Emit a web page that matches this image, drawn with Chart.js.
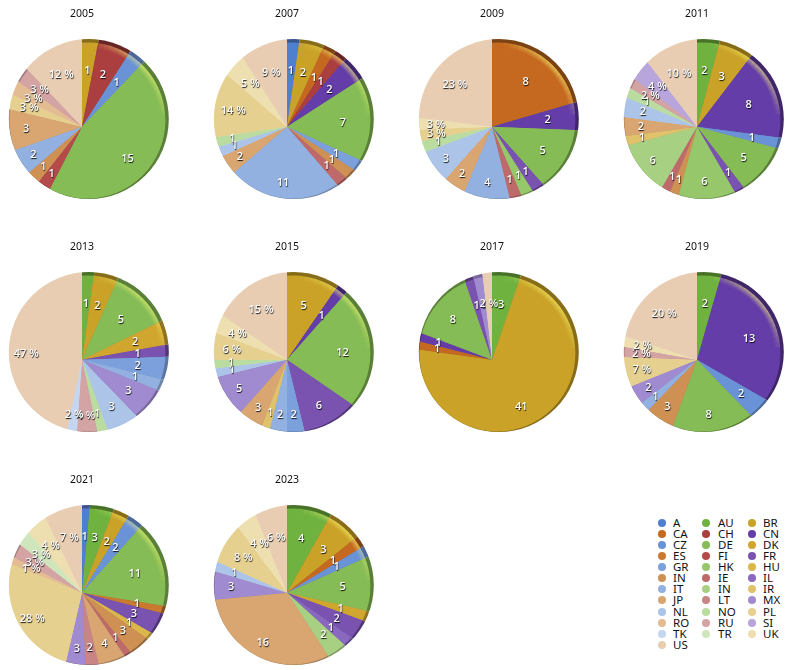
<!DOCTYPE html>
<html>
<head>
<meta charset="utf-8">
<style>
  html, body { margin: 0; background: #fff; overflow: hidden; }
  #page { position: relative; width: 800px; height: 670px; }
  canvas { position: absolute; }
  .key { position: absolute; font: 11.5px "Noto Sans", sans-serif; color: #111; line-height: 12px; white-space: nowrap; }
  .dot { position: absolute; width: 8px; height: 8px; border-radius: 50%; }
</style>
<script src="https://cdn.jsdelivr.net/npm/chart.js@4"></script>
</head>
<body>
<div id="page"></div>
<script>
const years = ["2005", "2007", "2009", "2011", "2013", "2015", "2017", "2019", "2021", "2023"];

const categories = ["A", "AU", "BR", "CA", "CH", "CN", "CZ", "DE", "DK", "ES",
  "FI", "FR", "GR", "HK", "HU", "IN", "IE", "IL", "IT", "IN",
  "IR", "JP", "LT", "MX", "NL", "NO", "PL", "RO", "RU", "SI",
  "TK", "TR", "UK", "US"];

const colors = ["#4f80cf", "#6fb23f", "#c9a227", "#c4691f", "#ab3f3f", "#643da8", "#6a92d6", "#85bc55", "#d0a62e", "#c97a2e",
  "#b54a4a", "#7a52b0", "#7ca0dc", "#96c76a", "#dab64b", "#cf9053", "#bf6a6a", "#8a68bf", "#92b0e0", "#a8d083",
  "#e0c26a", "#d9a672", "#c98585", "#a08ad0", "#abc4e8", "#bbdca0", "#e6d08f", "#e3bc94", "#d4a3a3", "#b7a5dc",
  "#c5d6f0", "#cfe6bd", "#eedfb0", "#e8cdb2"];

// same order as categories
const v2005 = [0,0,1,0,2,0,1,15,0,0, 1,0,0,0,0,1,0,0,2,0, 0,3,0,0,0,0,1,1,1,0, 0,0,0,4];
const v2007 = [1,0,2,1,1,2,0,7,0,0, 0,0,1,0,0,1,1,0,11,0, 0,2,0,0,1,1,6,0,0,0, 0,0,2,4];
const v2009 = [0,0,0,8,0,2,0,5,0,0, 0,1,0,1,0,0,1,0,4,0, 0,2,0,0,3,1,1,0,0,0, 0,0,1,9];
const v2011 = [0,2,3,0,0,8,1,5,0,0, 0,1,0,6,0,1,1,0,0,6, 1,2,0,0,2,1,0,0,1,2, 0,0,0,5];
const v2013 = [0,1,2,0,0,0,0,5,2,0, 0,1,2,0,0,0,0,0,1,0, 0,0,0,3,3,1,0,0,2,0, 1,0,0,21];
const v2015 = [0,0,5,0,0,1,0,12,0,0, 0,6,2,0,0,0,0,0,2,0, 1,3,0,5,1,1,3,0,0,0, 0,0,2,8];
const v2017 = [0,3,41,1,0,1,0,8,0,0, 0,1,0,0,0,0,0,0,0,0, 0,0,0,1,0,0,0,0,0,0, 0,0,0,1];
const v2019 = [0,2,0,0,0,13,2,8,0,0, 0,0,0,0,0,3,0,0,1,0, 0,0,0,2,0,0,3,0,1,0, 0,0,1,9];
const v2021 = [1,3,2,0,0,0,2,11,0,1, 0,3,0,0,1,3,1,0,0,0, 0,4,2,3,0,0,19,1,2,0, 0,2,3,5];
const v2023 = [0,4,3,1,0,0,1,5,1,0, 0,2,0,0,0,0,0,1,0,2, 0,16,0,3,1,0,4,0,0,0, 0,0,2,3];
const allValues = [v2005, v2007, v2009, v2011, v2013, v2015, v2017, v2019, v2021, v2023];

// from PL onwards the labels are percentages, before that plain counts
const firstPercent = categories.indexOf("PL");

const page = document.getElementById("page");

function parts(hex) {
  return [1, 3, 5].map((i) => parseInt(hex.slice(i, i + 2), 16));
}

// pale slices have no visible rim, saturated ones get a dark one
function rimFactor(hex) {
  const [r, g, b] = parts(hex);
  const light = (r + g + b) / 765;
  return light > 0.72 ? 1 : 0.56 + (light - 0.3) * 0.5;
}

function darker(hex, f) {
  const [r, g, b] = parts(hex);
  return `rgb(${r * f},${g * f},${b * f})`;
}

function sectorPath(ctx, arc, radius) {
  ctx.beginPath();
  ctx.moveTo(arc.x, arc.y);
  ctx.arc(arc.x, arc.y, radius, arc.startAngle, arc.endAngle);
  ctx.closePath();
}

// the slices meet off-centre: the disc sits up and to the right of their apex
const rimPlugin = {
  id: "rim",
  beforeDatasetsDraw(chart) {
    const ctx = chart.ctx;
    const arcs = chart.getDatasetMeta(0).data;
    const ax = arcs[0].x;
    const ay = arcs[0].y;
    chart.$outer = { x: ax + 6.8, y: ay - 7.6, r: 80 };
    chart.$inner = { x: ax + 5.4, y: ay - 6.2, r: 78 };

    arcs.forEach((arc, i) => {
      if (!chart.data.datasets[0].data[i]) return;
      const col = colors[i];
      ctx.save();
      sectorPath(ctx, arc, 100);
      ctx.clip();
      ctx.fillStyle = darker(col, rimFactor(col));
      ctx.beginPath();
      ctx.arc(chart.$outer.x, chart.$outer.y, chart.$outer.r, 0, Math.PI * 2);
      ctx.fill();
      ctx.restore();
    });

    ctx.save();
    ctx.beginPath();
    ctx.arc(chart.$inner.x, chart.$inner.y, chart.$inner.r, 0, Math.PI * 2);
    ctx.clip();
  },
  afterDatasetsDraw(chart) {
    const ctx = chart.ctx;
    ctx.restore();
    const arcs = chart.getDatasetMeta(0).data;
    const inner = chart.$inner;

    // soft bright edge just inside the rim, strongest towards the upper right
    arcs.forEach((arc, i) => {
      if (!chart.data.datasets[0].data[i]) return;
      const strength = 1 - rimFactor(colors[i]);
      if (!strength) return;
      ctx.save();
      sectorPath(ctx, arc, 100);
      ctx.clip();
      for (let deg = -85; deg < -5; deg += 4) {
        const a0 = (deg * Math.PI) / 180;
        const a1 = ((deg + 4.2) * Math.PI) / 180;
        const alpha = Math.sin((Math.PI * (deg + 87)) / 84) * strength * 1.5;
        const glow = ctx.createRadialGradient(inner.x, inner.y, inner.r - 6, inner.x, inner.y, inner.r);
        glow.addColorStop(0, "rgba(255,255,120,0)");
        glow.addColorStop(1, `rgba(255,255,120,${alpha})`);
        ctx.fillStyle = glow;
        ctx.beginPath();
        ctx.moveTo(inner.x, inner.y);
        ctx.arc(inner.x, inner.y, inner.r, a0, a1);
        ctx.closePath();
        ctx.fill();
      }
      ctx.restore();
    });

    // value labels
    const values = chart.data.datasets[0].data;
    const total = values.reduce((a, b) => a + b, 0);
    ctx.save();
    ctx.font = '600 11px "Open Sans", sans-serif';
    ctx.textAlign = "center";
    ctx.textBaseline = "middle";
    ctx.fillStyle = "#fff";
    ctx.shadowColor = "rgba(0,0,0,0.9)";
    ctx.shadowBlur = 1;
    ctx.shadowOffsetX = 0.5;
    ctx.shadowOffsetY = 1;
    arcs.forEach((arc, i) => {
      if (!values[i]) return;
      const mid = (arc.startAngle + arc.endAngle) / 2;
      const text = i >= firstPercent ? Math.round((values[i] / total) * 100) + " %" : String(values[i]);
      ctx.fillText(text, arc.x + Math.cos(mid) * 56, arc.y + Math.sin(mid) * 56);
    });
    ctx.restore();
  },
};

years.forEach((year, n) => {
  const canvas = document.createElement("canvas");
  canvas.width = 200;
  canvas.height = 229;
  canvas.style.left = 81.7 + (n % 4) * 205 - 100 + "px";
  canvas.style.top = Math.floor(n / 4) * 233 + "px";
  canvas.style.width = "200px";
  canvas.style.height = "229px";
  page.appendChild(canvas);

  new Chart(canvas.getContext("2d"), {
    type: "pie",
    data: {
      labels: categories,
      datasets: [{
        data: allValues[n],
        backgroundColor: colors,
        borderWidth: 0,
        radius: 95,
        clip: false,
      }],
    },
    options: {
      responsive: false,
      animation: false,
      events: [],
      plugins: {
        legend: { display: false },
        tooltip: { enabled: false },
        title: {
          display: true,
          text: year,
          color: "#111",
          font: { family: "'Noto Sans', sans-serif", size: 10.5, weight: "normal", lineHeight: 1.2 },
          padding: { top: 7.7, bottom: 4 },
        },
      },
    },
    plugins: [rimPlugin],
  });
});

// legend, filled row by row over three columns
const dotX = [657.7, 702, 748];
const textX = [673, 718, 763];
categories.forEach((name, i) => {
  const col = i % 3;
  const y = 522.7 + Math.floor(i / 3) * 11.1;
  const dot = document.createElement("div");
  dot.className = "dot";
  dot.style.left = dotX[col] + "px";
  dot.style.top = y - 4 + "px";
  dot.style.background = colors[i];
  page.appendChild(dot);
  const key = document.createElement("div");
  key.className = "key";
  key.style.left = textX[col] + "px";
  key.style.top = y - 6 + "px";
  key.textContent = name;
  page.appendChild(key);
});
</script>
</body>
</html>
